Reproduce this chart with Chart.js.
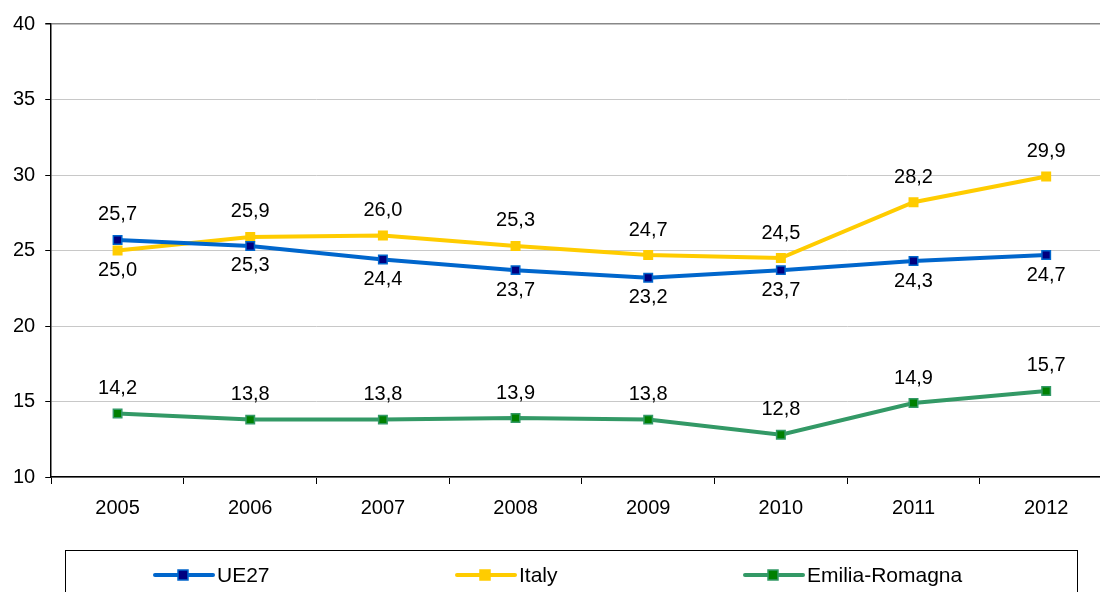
<!DOCTYPE html>
<html>
<head>
<meta charset="utf-8">
<script src="https://cdn.jsdelivr.net/npm/chart.js@4"></script>
<style>
  html, body { margin: 0; padding: 0; background: #fff; overflow: hidden; }
  #wrap { width: 1120px; height: 592px; position: relative; }
</style>
</head>
<body>
<div id="wrap"><canvas id="chart"></canvas></div>
<script>
// dati
const years = ['2005', '2006', '2007', '2008', '2009', '2010', '2011', '2012'];
const ue27 = [25.7, 25.3, 24.4, 23.7, 23.2, 23.7, 24.3, 24.7];
const italy = [25.0, 25.9, 26.0, 25.3, 24.7, 24.5, 28.2, 29.9];
const emilia = [14.2, 13.8, 13.8, 13.9, 13.8, 12.8, 14.9, 15.7];
const yTicks = [10, 15, 20, 25, 30, 35, 40];

// posizione etichette (sopra / sotto)
const ue27Pos = ['up', 'down', 'down', 'down', 'down', 'down', 'down', 'down'];
const italyPos = ['down', 'up', 'up', 'up', 'up', 'up', 'up', 'up'];
const emiliaPos = ['up', 'up', 'up', 'up', 'up', 'up', 'up', 'up'];

const FONT = '"Liberation Sans", Arial, sans-serif';

// etichette dei valori
const valueLabels = {
    id: 'valueLabels',
    afterDatasetsDraw(chart) {
        const ctx = chart.ctx;
        ctx.save();
        ctx.font = '20px ' + FONT;
        ctx.fillStyle = '#000';
        ctx.textAlign = 'center';
        ctx.textBaseline = 'middle';
        chart.data.datasets.forEach((ds, i) => {
            const meta = chart.getDatasetMeta(i);
            meta.data.forEach((pt, j) => {
                const up = ds.labelPos[j] === 'up';
                const txt = ds.data[j].toFixed(1).replace('.', ',');
                ctx.fillText(txt, pt.x, pt.y + (up ? -25 : 20));
            });
        });
        ctx.restore();
    }
};

// legenda in basso con riquadro
const boxLegend = {
    id: 'boxLegend',
    afterDraw(chart) {
        const ctx = chart.ctx;
        ctx.save();
        ctx.strokeStyle = '#000';
        ctx.lineWidth = 1;
        ctx.strokeRect(65.5, 550.5, 1012, 60);
        const items = [
            { x: 155, ds: chart.data.datasets[0] },
            { x: 457, ds: chart.data.datasets[1] },
            { x: 745, ds: chart.data.datasets[2] }
        ];
        const y = 575;
        items.forEach(it => {
            ctx.strokeStyle = it.ds.borderColor;
            ctx.lineWidth = 4;
            ctx.lineCap = 'round';
            ctx.beginPath();
            ctx.moveTo(it.x, y);
            ctx.lineTo(it.x + 58, y);
            ctx.stroke();
            ctx.fillStyle = it.ds.pointBackgroundColor;
            ctx.fillRect(it.x + 23, y - 5, 10, 10);
            ctx.lineWidth = 1.5;
            ctx.strokeStyle = it.ds.pointBorderColor;
            ctx.strokeRect(it.x + 23, y - 5, 10, 10);
            ctx.fillStyle = '#000';
            ctx.font = '21px ' + FONT;
            ctx.textAlign = 'left';
            ctx.textBaseline = 'middle';
            ctx.fillText(it.ds.label, it.x + 62, y + 1);
        });
        ctx.restore();
    }
};

function serie(label, data, line, fill, pos) {
    return {
        label: label,
        data: data,
        labelPos: pos,
        borderColor: line,
        backgroundColor: line,
        borderWidth: 4,
        pointStyle: 'rect',
        pointRadius: 6,
        pointBackgroundColor: fill,
        pointBorderColor: line,
        pointBorderWidth: 1.5,
        tension: 0
    };
}

document.addEventListener('DOMContentLoaded', () => {
    const ctx = document.getElementById('chart').getContext('2d');
    new Chart(ctx, {
        type: 'line',
        data: {
            labels: years,
            datasets: [
                serie('UE27', ue27, '#0066cc', '#000080', ue27Pos),
                serie('Italy', italy, '#ffcc00', '#ffcc00', italyPos),
                serie('Emilia-Romagna', emilia, '#339966', '#008000', emiliaPos)
            ]
        },
        options: {
            responsive: true,
            maintainAspectRatio: false,
            animation: false,
            layout: { padding: { left: 3, right: 0, top: 24, bottom: 60 } },
            plugins: {
                legend: { display: false },
                tooltip: { enabled: false }
            },
            scales: {
                x: {
                    offset: true,
                    grid: { offset: true, drawOnChartArea: false, tickLength: 7, tickColor: '#000' },
                    border: { color: '#000', width: 1.5 },
                    ticks: { color: '#000', font: { family: FONT, size: 20 }, padding: 12 }
                },
                y: {
                    min: 10,
                    max: 40,
                    afterBuildTicks: axis => { axis.ticks = yTicks.map(v => ({ value: v })); },
                    grid: {
                        color: c => c.tick && c.tick.value === 40 ? '#888' : '#c8c8c8',
                        lineWidth: c => c.tick && c.tick.value === 40 ? 1.5 : 1,
                        tickColor: '#000',
                        tickLength: 6
                    },
                    border: { color: '#000', width: 1.5 },
                    ticks: { color: '#000', font: { family: FONT, size: 20 }, padding: 10 }
                }
            }
        },
        plugins: [valueLabels, boxLegend]
    });
});
</script>
</body>
</html>
